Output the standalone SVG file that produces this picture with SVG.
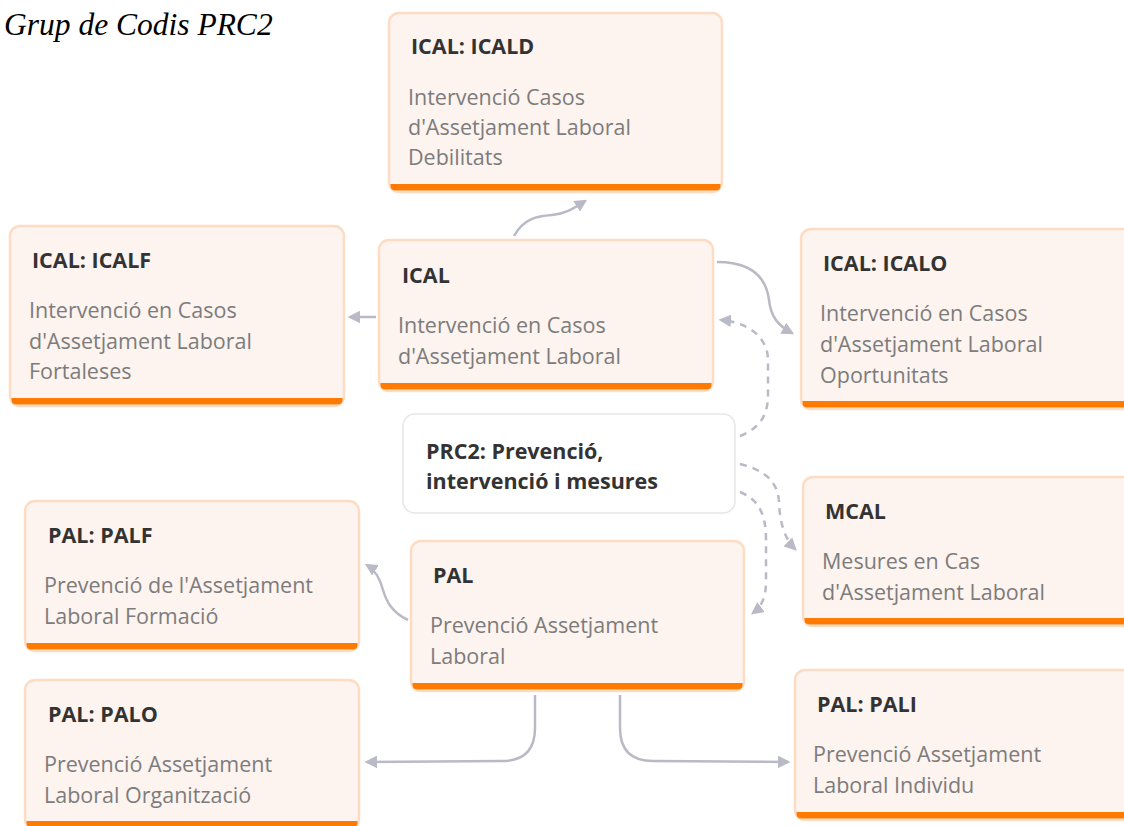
<svg xmlns="http://www.w3.org/2000/svg" width="1124" height="826" viewBox="0 0 1124 826">
<style>
.box{fill:#fdf3ef;stroke:#fddcc4;stroke-width:2.5}
.bar{fill:#ff7a00}
.root{fill:#ffffff;stroke:#e6e6e8;stroke-width:1.5}
.t{font-family:"Open Sans","Noto Sans",sans-serif;font-weight:bold;font-size:21.5px;fill:#333333}
.b{font-family:"Open Sans","Noto Sans",sans-serif;font-size:21.5px;fill:#7c7c7c}
.c{fill:none;stroke:#b9bac6;stroke-width:2.5}
.d{fill:none;stroke:#b9bac6;stroke-width:2.5;stroke-dasharray:7 6}
.title{font-family:"Liberation Serif",serif;font-style:italic;font-size:31.5px;fill:#000000}
</style>
<defs>
<marker id="ah" viewBox="0 0 10 10" refX="8" refY="5" markerWidth="5" markerHeight="5" orient="auto" markerUnits="strokeWidth">
<path d="M0,0 L10,5 L0,10 Z" fill="#b9bac6"/>
</marker>
</defs>
<rect width="1124" height="826" fill="#ffffff"/>
<text class="title" x="4" y="35">Grup de Codis PRC2</text>

<g id="connectors">
<path class="c" d="M514,236 C524,218 538,216 552,215 C566,214 574,208 585,201" marker-end="url(#ah)"/>
<path class="c" d="M376,317 L350,317" marker-end="url(#ah)"/>
<path class="c" d="M717,262 C758,262 767,284 769,300 C771,318 779,326 792,333" marker-end="url(#ah)"/>
<path class="d" d="M740,436 C760,428 768,415 768,395 L768,360 C768,336 746,322 721,320" marker-end="url(#ah)"/>
<path class="d" d="M740,464 C765,470 778,482 779,502 C780,526 786,540 795,549" marker-end="url(#ah)"/>
<path class="d" d="M740,492 C760,500 766,516 766,540 L766,582 C766,598 761,607 753,613" marker-end="url(#ah)"/>
<path class="c" d="M408,620 C391,612 386,600 383,590 C380,578 375,570 367,565" marker-end="url(#ah)"/>
<path class="c" d="M535,695 L535,728 Q535,761 502,761 L367,762" marker-end="url(#ah)"/>
<path class="c" d="M620,695 L620,728 Q620,761 653,761 L788,762" marker-end="url(#ah)"/>
</g>

<g id="node-icald">
<rect class="box" x="389" y="13" width="333" height="179" rx="10"/>
<path class="bar" d="M390.5,184 H720.5 V186 Q720.5,190.5 715,190.5 H396 Q390.5,190.5 390.5,186 Z"/>
<text class="t" x="411" y="54">ICAL: ICALD</text>
<text class="b" x="408" y="105">Intervenció Casos</text>
<text class="b" x="408" y="135">d'Assetjament Laboral</text>
<text class="b" x="408" y="165">Debilitats</text>
</g>

<g id="node-icalf">
<rect class="box" x="10" y="226" width="334" height="180" rx="10"/>
<path class="bar" d="M11.5,398 H342.5 V400 Q342.5,404.5 337,404.5 H17 Q11.5,404.5 11.5,400 Z"/>
<text class="t" x="32" y="268">ICAL: ICALF</text>
<text class="b" x="29" y="318">Intervenció en Casos</text>
<text class="b" x="29" y="349">d'Assetjament Laboral</text>
<text class="b" x="29" y="379">Fortaleses</text>
</g>

<g id="node-ical">
<rect class="box" x="379" y="240" width="334" height="151" rx="10"/>
<path class="bar" d="M380.5,383 H711.5 V385 Q711.5,389.5 706,389.5 H386 Q380.5,389.5 380.5,385 Z"/>
<text class="t" x="402" y="283">ICAL</text>
<text class="b" x="398" y="333">Intervenció en Casos</text>
<text class="b" x="398" y="364">d'Assetjament Laboral</text>
</g>

<g id="node-icalo">
<rect class="box" x="801" y="229" width="340" height="180" rx="10"/>
<path class="bar" d="M802.5,401 H1139.5 V403 Q1139.5,407.5 1134,407.5 H808 Q802.5,407.5 802.5,403 Z"/>
<text class="t" x="823" y="271">ICAL: ICALO</text>
<text class="b" x="820" y="321">Intervenció en Casos</text>
<text class="b" x="820" y="352">d'Assetjament Laboral</text>
<text class="b" x="820" y="383">Oportunitats</text>
</g>

<g id="node-prc2">
<rect class="root" x="403" y="414" width="332" height="99" rx="12"/>
<text class="t" x="426" y="459">PRC2: Prevenció,</text>
<text class="t" x="426" y="489">intervenció i mesures</text>
</g>

<g id="node-mcal">
<rect class="box" x="803" y="477" width="340" height="149" rx="10"/>
<path class="bar" d="M804.5,618 H1141.5 V620 Q1141.5,624.5 1136,624.5 H810 Q804.5,624.5 804.5,620 Z"/>
<text class="t" x="825" y="519">MCAL</text>
<text class="b" x="822" y="569">Mesures en Cas</text>
<text class="b" x="822" y="600">d'Assetjament Laboral</text>
</g>

<g id="node-pal">
<rect class="box" x="411" y="541" width="333" height="150" rx="10"/>
<path class="bar" d="M412.5,683 H742.5 V685 Q742.5,689.5 737,689.5 H418 Q412.5,689.5 412.5,685 Z"/>
<text class="t" x="433" y="583">PAL</text>
<text class="b" x="430" y="633">Prevenció Assetjament</text>
<text class="b" x="430" y="664">Laboral</text>
</g>

<g id="node-palf">
<rect class="box" x="25" y="501" width="334" height="150" rx="10"/>
<path class="bar" d="M26.5,643 H357.5 V645 Q357.5,649.5 352,649.5 H32 Q26.5,649.5 26.5,645 Z"/>
<text class="t" x="48" y="543">PAL: PALF</text>
<text class="b" x="44" y="593">Prevenció de l'Assetjament</text>
<text class="b" x="44" y="624">Laboral Formació</text>
</g>

<g id="node-palo">
<rect class="box" x="25" y="680" width="334" height="149" rx="10"/>
<path class="bar" d="M26.5,821 H357.5 V823 Q357.5,827.5 352,827.5 H32 Q26.5,827.5 26.5,823 Z"/>
<text class="t" x="48" y="722">PAL: PALO</text>
<text class="b" x="44" y="772">Prevenció Assetjament</text>
<text class="b" x="44" y="803">Laboral Organització</text>
</g>

<g id="node-pali">
<rect class="box" x="795" y="670" width="340" height="150" rx="10"/>
<path class="bar" d="M796.5,812 H1133.5 V814 Q1133.5,818.5 1128,818.5 H802 Q796.5,818.5 796.5,814 Z"/>
<text class="t" x="817" y="712">PAL: PALI</text>
<text class="b" x="813" y="762">Prevenció Assetjament</text>
<text class="b" x="813" y="793">Laboral Individu</text>
</g>
</svg>
